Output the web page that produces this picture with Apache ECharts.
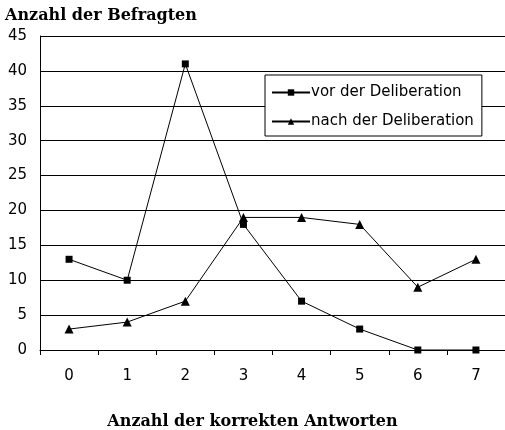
<!DOCTYPE html>
<html><head><meta charset="utf-8">
<script src="https://cdn.jsdelivr.net/npm/echarts@6/dist/echarts.min.js"></script>
<style>html,body{margin:0;padding:0;background:#fff}#c{width:505px;height:430px}</style>
</head><body><div id="c"></div>
<script>
const categories = ['0','1','2','3','4','5','6','7'];
const vorValues = [13, 10, 41, 18, 7, 3, 0, 0];
const nachValues = [3, 4, 7, 19, 19, 18, 9, 13];
const seriesNames = ['vor der Deliberation', 'nach der Deliberation'];
const yTitle = 'Anzahl der Befragten';
const xTitle = 'Anzahl der korrekten Antworten';

const serif = {fontFamily:'DejaVu Serif', fontWeight:'bold', fontSize:16, color:'#000'};
const chart = echarts.init(document.getElementById('c'), null, {renderer:'canvas'});
chart.setOption({
  animation: false,
  backgroundColor: '#fff',
  title: [
    {text: yTitle, left: 5, top: 8, padding: 0, textStyle: serif},
    {text: xTitle, left: 'center', top: 414, padding: 0, textStyle: serif}
  ],
  grid: {left: 40, top: 36, width: 472, bottom: 80, containLabel: false},
  legend: {
    orient: 'vertical', left: 265, top: 75,
    backgroundColor: '#fff', borderColor: '#000', borderWidth: 1,
    padding: [10, 8, 7, 6], itemGap: 14, itemWidth: 38, itemHeight: 8,
    textStyle: {fontFamily:'DejaVu Sans', fontSize: 15, color:'#000', padding:[0,0,0,-4]},
    data: seriesNames
  },
  xAxis: {
    type: 'category', data: categories, boundaryGap: true,
    axisLine: {lineStyle:{color:'#000', width:1}},
    axisTick: {show:true, length:5, lineStyle:{color:'#000'}},
    axisLabel: {margin: 19, fontFamily:'DejaVu Sans', fontSize:15, color:'#000'}
  },
  yAxis: {
    type: 'value', min: 0, max: 45, interval: 5,
    axisLine: {show:true, lineStyle:{color:'#000'}},
    axisTick: {show:false},
    splitLine: {lineStyle:{color:'#000', width:1}},
    axisLabel: {margin: 13, fontFamily:'DejaVu Sans', fontSize:15, color:'#000'}
  },
  series: [
    {name: seriesNames[0], type:'line', data: vorValues, symbol:'rect', symbolSize:7,
     lineStyle:{color:'#000', width:1}, itemStyle:{color:'#000'}},
    {name: seriesNames[1], type:'line', data: nachValues, symbol:'triangle', symbolSize:9,
     lineStyle:{color:'#000', width:1}, itemStyle:{color:'#000'}}
  ]
});
</script></body></html>
